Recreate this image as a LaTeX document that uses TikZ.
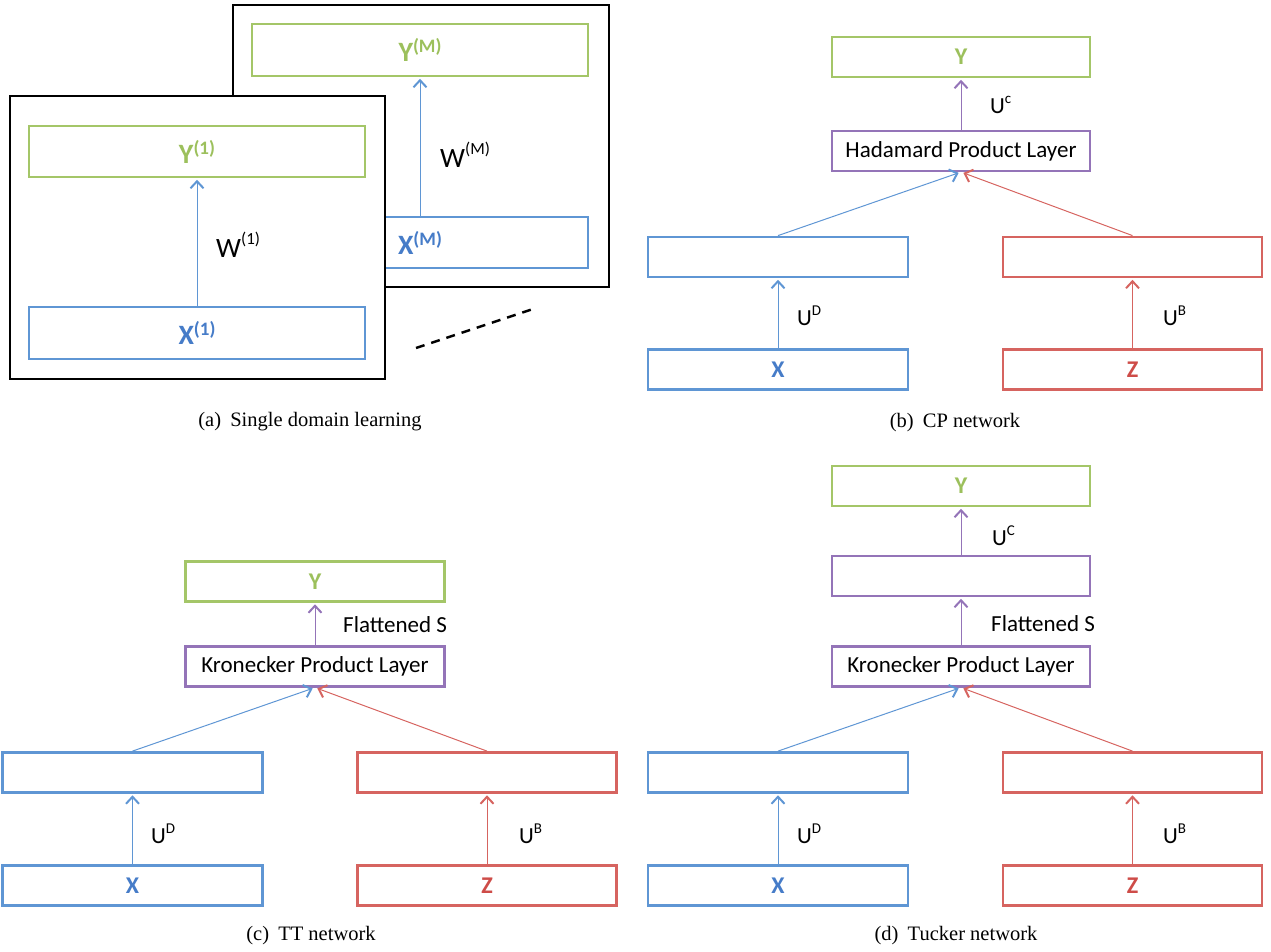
\documentclass[tikz,border=0pt]{standalone}
\usepackage{fontspec}
\setmainfont{Liberation Serif}
\newfontfamily\calfont{Carlito}
\usetikzlibrary{arrows.meta}
\definecolor{cblue}{RGB}{95,150,212}
\definecolor{cred}{RGB}{214,100,96}
\definecolor{cgreen}{RGB}{164,198,104}
\definecolor{cpurple}{RGB}{148,116,184}
\definecolor{tblue}{RGB}{70,124,200}
\definecolor{tred}{RGB}{206,76,72}
\definecolor{tgreen}{RGB}{156,192,92}
\newcommand\fsz[1]{\fontsize{#1}{#1}\selectfont}
\newcommand\supr[1]{\raisebox{0.42em}{\fsz{15}#1}}
\newcommand\bsup[1]{\raisebox{0.32em}{\fsz{19}\bfseries #1}}
\begin{document}
\begin{tikzpicture}[x=1pt,y=-1pt,
  box/.style={draw, line width=2.8pt, fill=white, inner sep=0pt, minimum height=40pt, font=\calfont\fsz{23}},
  bbox/.style={box, draw=cblue, text=tblue, minimum width=260pt},
  rbox/.style={box, draw=cred, text=tred, minimum width=259pt},
  gbox/.style={box, draw=cgreen, text=tgreen, minimum width=258pt},
  pbox/.style={box, draw=cpurple, text=black, minimum width=258pt},
  frm/.style={draw=black, line width=2pt, fill=white, inner sep=0pt},
  arr/.style={line width=1pt, -{Straight Barb[length=7pt,width=13pt,line width=2pt]}, shorten >=1.4pt},
  barr/.style={arr, draw=cblue},
  rarr/.style={arr, draw=cred},
  parr/.style={arr, draw=cpurple},
  lbl/.style={anchor=west, inner sep=0pt, font=\calfont\fsz{23}},
  wlbl/.style={anchor=west, inner sep=0pt, font=\calfont\fsz{28}},
  capt/.style={inner sep=0pt, font=\fsz{20.5}},
  bigletter/.style={font=\calfont\fsz{28}\bfseries},
  letter/.style={font=\calfont\fsz{24}\bfseries}
]
\useasboundingbox (0,0) rectangle (1271,951);

% ---------- panel (a) ----------
\node[frm, minimum width=376pt, minimum height=282pt] (backframe) at (421,146) {};
\node[gbox, minimum width=336pt, minimum height=52pt, bigletter] (aYM) at (420,50) {Y\bsup{(M)}};
\node[bbox, minimum width=336pt, minimum height=51pt, bigletter] (aXM) at (420,242.5) {X\bsup{(M)}};
\draw[barr] (aXM) -- (aYM);
\node[wlbl] (aWM) at (440,155) {W\raisebox{0.45em}{\fsz{17}(M)}};

\node[frm, minimum width=375.5pt, minimum height=283pt] (frontframe) at (197.25,237.5) {};
\node[gbox, minimum width=336pt, minimum height=51pt, bigletter] (aY1) at (197,151.5) {Y\bsup{(1)}};
\node[bbox, minimum width=336pt, minimum height=52pt, bigletter] (aX1) at (197,333) {X\bsup{(1)}};
\draw[barr] (aX1) -- (aY1);
\node[wlbl] (aW1) at (216,245) {W\raisebox{0.45em}{\fsz{17}(1)}};

\coordinate (d1) at (416,348);
\coordinate (d2) at (533,309);
\draw[line width=2.4pt, dash pattern=on 9pt off 7pt] (d1) -- (d2);
\node[capt] (capa) at (310,422) {(a)\hspace{0.45em}Single domain learning};

% ---------- panel (b) ----------
\node[gbox, letter] (bY) at (961,57) {Y};
\node[pbox] (bH) at (961,151) {Hadamard Product Layer};
\node[bbox] (bL) at (778,257) {};
\node[rbox] (bR) at (1132.5,257) {};
\node[bbox, letter] (bX) at (778,369.5) {X};
\node[rbox, letter] (bZ) at (1132.5,369.5) {Z};
\draw[parr] (bH) -- (bY);
\draw[barr] (bX) -- (bL);
\draw[rarr] (bZ) -- (bR);
\draw[barr] (bL.north) -- ([xshift=-1pt]bH.south);
\draw[rarr] (bR.north) -- ([xshift=1pt]bH.south);
\node[lbl] (bUc) at (990,105) {U\supr{c}};
\node[lbl] (bUD) at (797,316) {U\supr{D}};
\node[lbl] (bUB) at (1163,316) {U\supr{B}};
\node[capt] (capb) at (955,423) {(b)\hspace{0.45em}CP network};

% ---------- panel (c) ----------
\node[gbox, minimum width=259pt, letter] (cY) at (315,581.5) {Y};
\node[pbox, minimum width=259pt] (cK) at (315,666.5) {Kronecker Product Layer};
\node[bbox] (cL) at (132.5,772.5) {};
\node[rbox] (cR) at (487,772.5) {};
\node[bbox, letter] (cX) at (132.5,885.5) {X};
\node[rbox, letter] (cZ) at (487,885.5) {Z};
\draw[parr] (cK) -- (cY);
\draw[barr] (cX) -- (cL);
\draw[rarr] (cZ) -- (cR);
\draw[barr] (cL.north) -- ([xshift=-1pt]cK.south);
\draw[rarr] (cR.north) -- ([xshift=1pt]cK.south);
\node[lbl] (cFS) at (343,625) {Flattened S};
\node[lbl] (cUD) at (151,834) {U\supr{D}};
\node[lbl] (cUB) at (519,834) {U\supr{B}};
\node[capt] (capc) at (311,936) {(c)\hspace{0.45em}TT network};

% ---------- panel (d) ----------
\node[gbox, letter] (dY) at (961,486) {Y};
\node[pbox] (dP) at (961,576) {};
\node[pbox] (dK) at (961,666.5) {Kronecker Product Layer};
\node[bbox] (dL) at (778,772.5) {};
\node[rbox] (dR) at (1132.5,772.5) {};
\node[bbox, letter] (dX) at (778,885.5) {X};
\node[rbox, letter] (dZ) at (1132.5,885.5) {Z};
\draw[parr] (dP) -- (dY);
\draw[parr] (dK) -- (dP);
\draw[barr] (dX) -- (dL);
\draw[rarr] (dZ) -- (dR);
\draw[barr] (dL.north) -- ([xshift=-1pt]dK.south);
\draw[rarr] (dR.north) -- ([xshift=1pt]dK.south);
\node[lbl] (dUC) at (992,536) {U\supr{C}};
\node[lbl] (dFS) at (991,624) {Flattened S};
\node[lbl] (dUD) at (797,834) {U\supr{D}};
\node[lbl] (dUB) at (1163,834) {U\supr{B}};
\node[capt] (capd) at (956,936) {(d)\hspace{0.45em}Tucker network};
\end{tikzpicture}
\end{document}
